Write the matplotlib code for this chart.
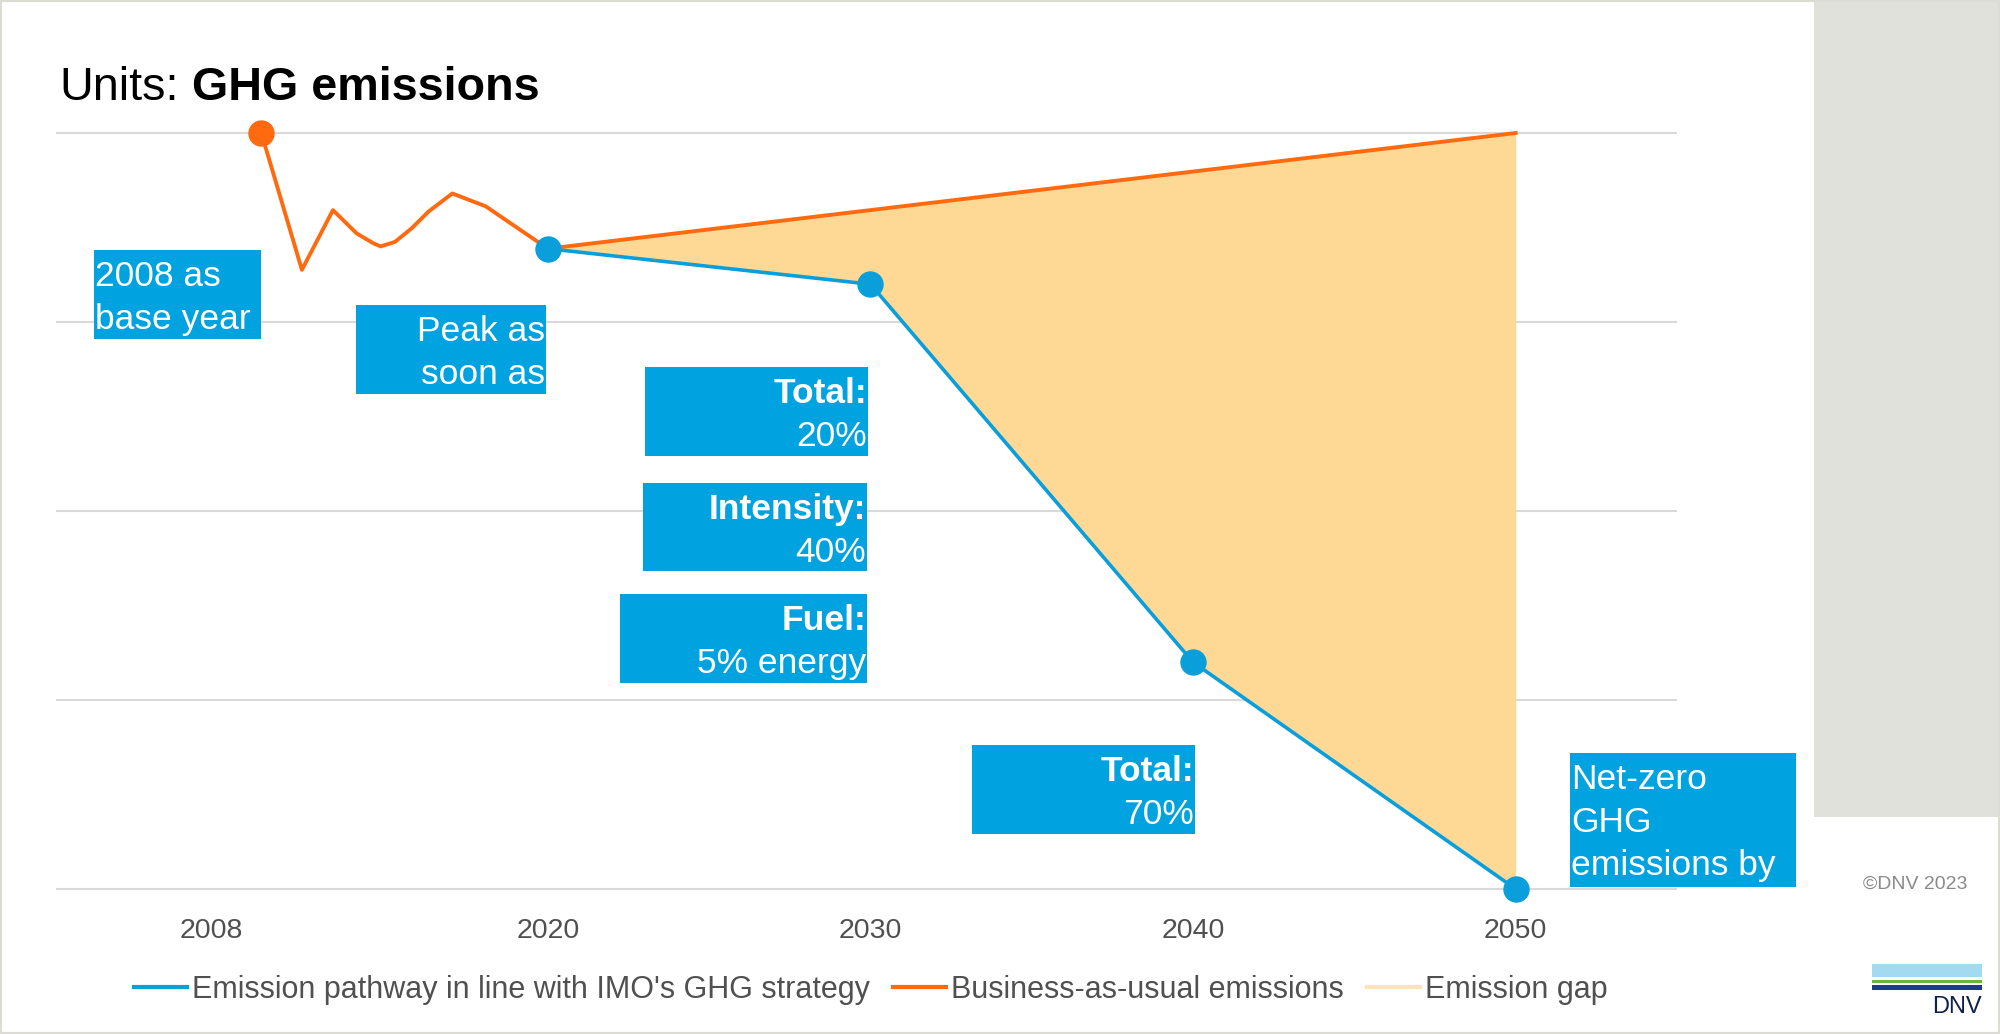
import numpy as np
import matplotlib
matplotlib.use("Agg")
import matplotlib.pyplot as plt
import matplotlib.transforms as mtransforms
from matplotlib.patches import Rectangle
from matplotlib.lines import Line2D

plt.rcParams["font.family"] = ["Liberation Sans", "DejaVu Sans"]

# GHG emissions index, 2008 = 100
BASE_LEVEL = 100

HIST_YEARS = [2008, 2009.7, 2011, 2012, 2012.7, 2013, 2013.6, 2014.3, 2015, 2016, 2017.4, 2020]
HIST_LEVELS = [100, 81.9, 89.8, 86.7, 85.4, 85.0, 85.6, 87.4, 89.6, 92.0, 90.3, 84.7]

BAU_YEARS = [2020, 2050]
BAU_LEVELS = [84.7, 100]

# total cut vs. 2008 in the IMO strategy
TARGET_YEARS = [2030, 2040, 2050]
TARGET_CUT_PCT = [20, 70, 100]

TICK_YEARS = [2008, 2020, 2030, 2040, 2050]
GRID_LEVELS = [0, 25, 50, 75, 100]

LEGEND_LABELS = [
    "Emission pathway in line with IMO's GHG strategy",
    "Business-as-usual emissions",
    "Emission gap",
]

PATH_YEARS = [HIST_YEARS[-1]] + TARGET_YEARS
PATH_LEVELS = [HIST_LEVELS[-1]] + [BASE_LEVEL * (1 - c / 100) for c in TARGET_CUT_PCT]

BLUE = "#0A9FDB"
BOX_BLUE = "#00A2DF"
ORANGE = "#FF6A10"
GAP = "#FDD995"
GAP_KEY = "#FDE3B8"
GREY_TXT = "#505050"

W, H = 2000, 1034
fig = plt.figure(figsize=(W / 100, H / 100), dpi=100)
fig.patch.set_facecolor("white")

# pixel coordinates measured from the top-left corner
px = mtransforms.Affine2D().scale(1 / W, -1 / H).translate(0, 1) + fig.transFigure

# side panel and page frame
fig.add_artist(Rectangle((1814, 0), 186, 817, transform=px, fc="#E1E1DB", ec="none", zorder=0))
fig.add_artist(Rectangle((0, 0), 1, 1, transform=fig.transFigure, fill=False,
                         ec="#DCDCD4", lw=3, zorder=0))

# axes: y from -2 to 102 so the 0 and 100 gridlines are not clipped
y_top, y_bot = 133, 889
unit = (y_bot - y_top) / 100
ax_top, ax_bot = y_top - 2 * unit, y_bot + 2 * unit
ax = fig.add_axes([56 / W, 1 - ax_bot / H, (1677 - 56) / W, (ax_bot - ax_top) / H])
ax.set_facecolor("none")

SQUEEZE = 0.74  # years before 2020 take less room


def fwd(x):
    x = np.asarray(x, float)
    return np.where(x < 2020, 2020 + (x - 2020) * SQUEEZE, x)


def inv(p):
    p = np.asarray(p, float)
    return np.where(p < 2020, 2020 + (p - 2020) / SQUEEZE, p)


ax.set_xscale("function", functions=(fwd, inv))
ax.set_xlim(1999.4, 2055)
ax.set_ylim(-2, 102)

ax.set_yticks(GRID_LEVELS)
ax.tick_params(axis="y", left=False, labelleft=False)
ax.grid(axis="y", color="#D9D9D9", lw=1.5)
ax.grid(axis="x", visible=False)
ax.set_axisbelow(True)
for s in ax.spines.values():
    s.set_visible(False)

ax.set_xticks(TICK_YEARS, [str(y) for y in TICK_YEARS])
ax.tick_params(axis="x", length=0, pad=10, labelsize=20.5, labelcolor=GREY_TXT)
first = ax.get_xticklabels()[0]
first.set_transform(first.get_transform()
                    + mtransforms.ScaledTranslation(-0.5, 0, fig.dpi_scale_trans))

# emission gap between business-as-usual and the pathway
bau_on_path = np.interp(PATH_YEARS, BAU_YEARS, BAU_LEVELS)
ax.fill_between(PATH_YEARS, PATH_LEVELS, bau_on_path, color=GAP, lw=0, zorder=2)

ax.plot(HIST_YEARS + BAU_YEARS[1:], HIST_LEVELS + BAU_LEVELS[1:], color=ORANGE, lw=2.8,
        solid_joinstyle="round", zorder=3)
ax.plot(HIST_YEARS[:1], HIST_LEVELS[:1], "o", ms=18, color=ORANGE, zorder=3)
ax.plot(PATH_YEARS, PATH_LEVELS, color=BLUE, lw=2.6, marker="o", ms=18, zorder=4)

# title
t1 = fig.text(59, 100, "Units:", transform=px, fontsize=33.7, va="baseline", color="black")
ax.annotate("GHG emissions", xy=(1, 0), xycoords=t1, xytext=(13, 0),
            textcoords="offset pixels", fontsize=33.7, fontweight="bold",
            va="bottom", ha="left", annotation_clip=False)


def callout(left, right, top, bottom, lines, ha="right"):
    fig.add_artist(Rectangle((left, top), right - left, bottom - top, transform=px,
                             fc=BOX_BLUE, ec="none", zorder=5))
    x = left + 1 if ha == "left" else right - 1
    for i, (txt, weight) in enumerate(lines):
        fig.text(x, top + 36 + 43 * i, txt, transform=px, ha=ha, va="baseline",
                 color="white", fontsize=25.5, fontweight=weight, zorder=6)


callout(94, 261, 250, 339, [("2008 as", "normal"), ("base year", "normal")], ha="left")
callout(356, 546, 305, 394, [("Peak as", "normal"), ("soon as", "normal")])
callout(645, 868, 367, 456, [("Total:", "bold"), ("20%", "normal")])
callout(643, 867, 483, 571, [("Intensity:", "bold"), ("40%", "normal")])
callout(620, 867, 594, 683, [("Fuel:", "bold"), ("5% energy", "normal")])
callout(972, 1195, 745, 834, [("Total:", "bold"), ("70%", "normal")])
callout(1570, 1796, 753, 887, [("Net-zero", "normal"), ("GHG", "normal"),
                                ("emissions by", "normal")], ha="left")

# legend
handles = [Line2D([], [], color=BLUE, lw=3),
           Line2D([], [], color=ORANGE, lw=3),
           Line2D([], [], color=GAP_KEY, lw=3)]
fig.legend(handles, LEGEND_LABELS, loc="center left", bbox_to_anchor=(134 / W, 1 - 990 / H),
           ncol=3, frameon=False, fontsize=22, handlelength=1.75, handletextpad=0.15,
           columnspacing=0.75, borderpad=0, borderaxespad=0, labelcolor=GREY_TXT)

# footer: copyright and logo
fig.text(1967, 884, "©DNV 2023", transform=px, ha="right", va="center",
         fontsize=14, color="#8A8A8A")
fig.add_artist(Rectangle((1872, 964), 110, 13, transform=px, fc="#A3DAF2", ec="none"))
fig.add_artist(Rectangle((1872, 980), 110, 3, transform=px, fc="#6DB33F", ec="none"))
fig.add_artist(Rectangle((1872, 985), 110, 5, transform=px, fc="#1E3A8A", ec="none"))
fig.text(1982, 1013, "DNV", transform=px, ha="right", va="baseline",
         fontsize=17, color="#0F204B")

fig.savefig("out.png", dpi=100)
